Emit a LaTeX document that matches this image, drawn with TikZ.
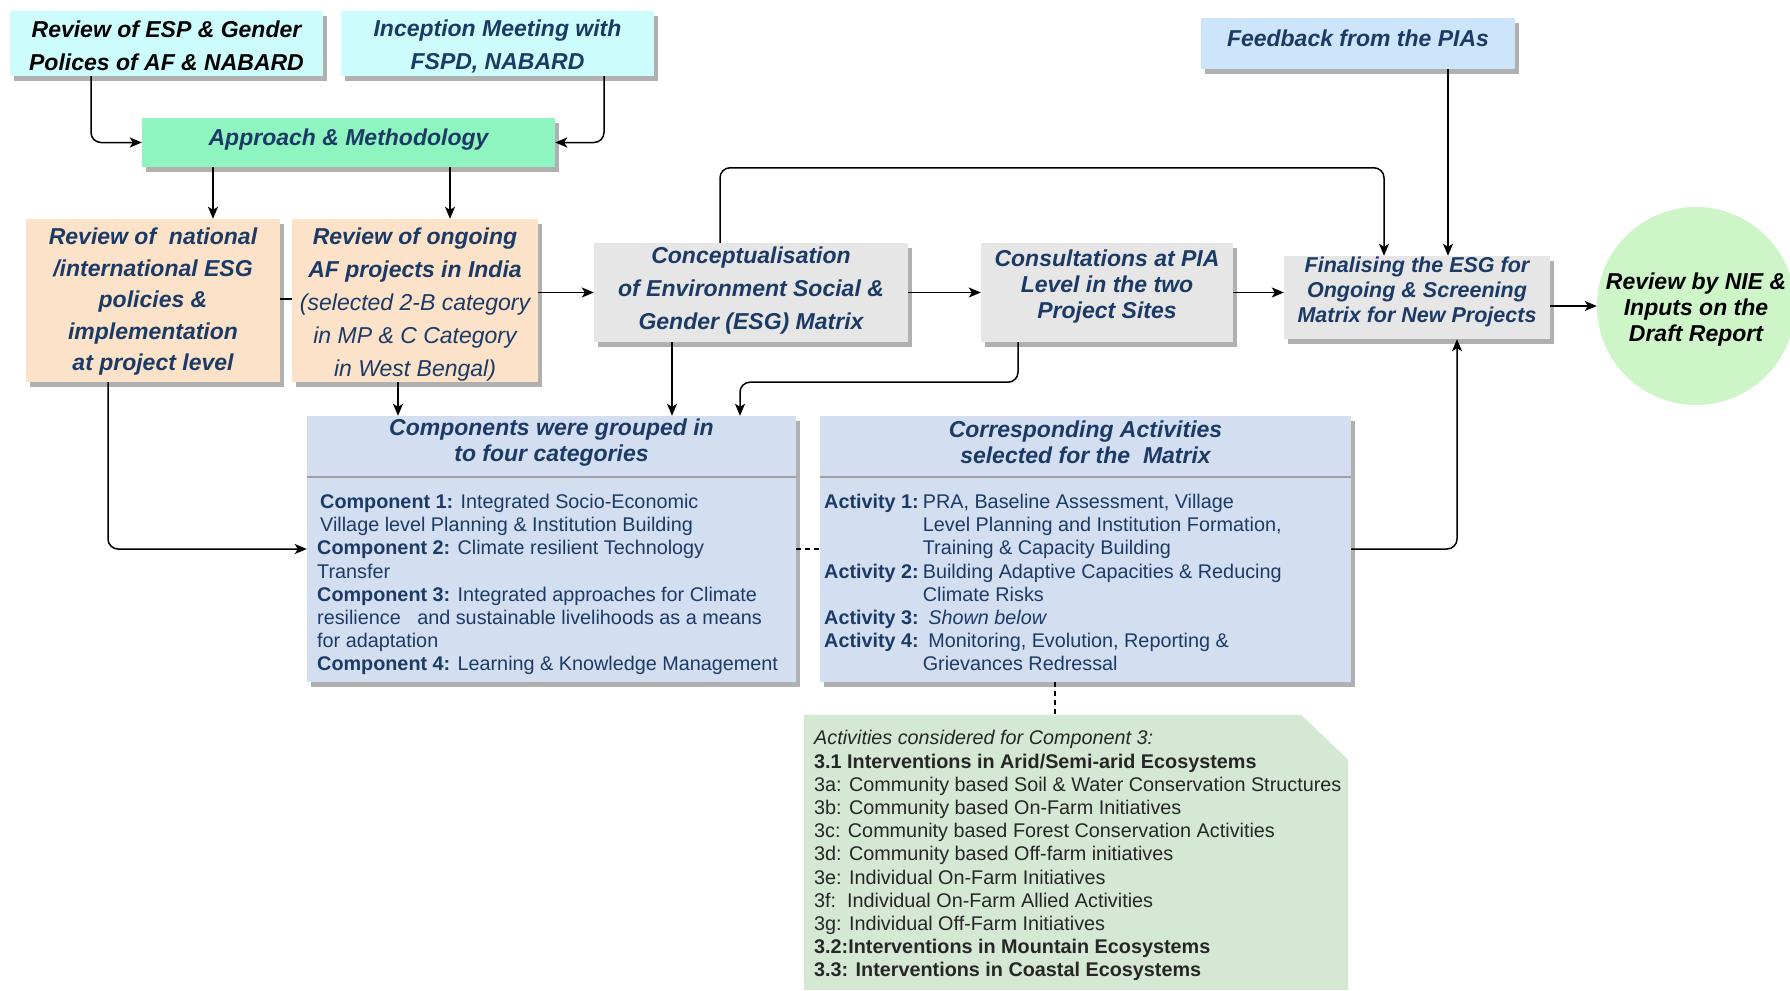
\documentclass[tikz,border=0pt]{standalone}
\usepackage{fontspec}
\setmainfont{Liberation Sans}
\usetikzlibrary{arrows.meta,shadows,calc}
\definecolor{navy}{HTML}{1B3A66}
\definecolor{cyanbox}{HTML}{CCFCFC}
\definecolor{mint}{HTML}{8FF5C0}
\definecolor{feedblue}{HTML}{CCE5FA}
\definecolor{peach}{HTML}{FBE2C9}
\definecolor{grayb}{HTML}{E6E6E6}
\definecolor{bluebox}{HTML}{D3DFF1}
\definecolor{notegreen}{HTML}{D5E8D4}
\definecolor{nieg}{HTML}{CDF5C8}
\definecolor{shadowgray}{HTML}{B0B0B0}
\definecolor{divgray}{HTML}{A0A0A0}
\definecolor{notetext}{HTML}{262626}
\tikzset{
  hd/.style={font=\bfseries\itshape\fontsize{23}{33}\selectfont, text=navy, align=center, inner sep=0pt},
  boxbase/.style={rectangle, inner sep=0pt, draw=none, drop shadow={shadow xshift=4pt, shadow yshift=-5pt, fill=shadowgray, opacity=1}},
  arr/.style={draw=black, line width=1.5pt, rounded corners=10pt, -{Stealth[length=12pt,width=10pt,inset=3pt]}},
  ln/.style={draw=black, line width=1.5pt},
  dsh/.style={draw=black, line width=1.3pt, dash pattern=on 5pt off 4pt},
  bodytxt/.style={font=\fontsize{19.8}{23.2}\selectfont, text=navy, align=left, inner sep=0pt, anchor=north west},
}
\begin{document}
\begin{tikzpicture}[x=1pt,y=-1pt]
\useasboundingbox (0,0) rectangle (1790,990);
\fill[white] (0,0) rectangle (1790,990);

% top row
\node[boxbase, fill=cyanbox, minimum width=313pt, minimum height=65pt] (esp) at (166.5,43.5) {};
\node[hd, text=black] (espt) at (166.5,46) {Review of ESP \& Gender\\Polices of AF \& NABARD};
\node[boxbase, fill=cyanbox, minimum width=313pt, minimum height=65pt] (incep) at (497.5,43.5) {};
\node[hd] (incept) at (497.5,46) {Inception Meeting with\\FSPD, NABARD};
\node[boxbase, fill=mint, minimum width=413pt, minimum height=49pt] (appr) at (348.5,142.5) {};
\node[hd] (apprt) at (348.5,139.5) {Approach \& Methodology};
\node[boxbase, fill=feedblue, minimum width=314pt, minimum height=51pt] (feed) at (1358,43.5) {};
\node[hd] (feedt) at (1358,38.5) {Feedback from the PIAs};

% second row
\node[boxbase, fill=peach, minimum width=254pt, minimum height=163pt] (natl) at (153,300.5) {};
\node[hd, font=\bfseries\itshape\fontsize{23}{31.5}\selectfont] (natlt) at (153,302) {Review of\ \ national\\/international ESG\\policies \&\\implementation\\at project level};
\node[boxbase, fill=peach, minimum width=246pt, minimum height=163pt] (ongo) at (415,300.5) {};
\node[hd] (ongot) at (415,305) {Review of ongoing\\AF projects in India\\\mdseries(selected 2-B category\\\mdseries in MP \& C Category\\\mdseries in West Bengal)};
\node[boxbase, fill=grayb, minimum width=314pt, minimum height=99pt] (conc) at (751,292.5) {};
\node[hd] (conct) at (751,290.5) {Conceptualisation\\of Environment Social \&\\Gender (ESG) Matrix};
\node[boxbase, fill=grayb, minimum width=252pt, minimum height=99pt] (cons) at (1107,292.5) {};
\node[hd, font=\bfseries\itshape\fontsize{23}{26}\selectfont] (const) at (1107,286.5) {Consultations at PIA\\Level in the two\\Project Sites};
\node[boxbase, fill=grayb, minimum width=266pt, minimum height=83pt] (fin) at (1417,297.5) {};
\node[hd, font=\bfseries\itshape\fontsize{21.5}{25}\selectfont] (fint) at (1417,291.5) {Finalising the ESG for\\Ongoing \& Screening\\Matrix for New Projects};
\node[circle, fill=nieg, minimum size=198pt, inner sep=0pt] (nie) at (1696,306) {};
\node[hd, text=black, font=\bfseries\itshape\fontsize{23}{26}\selectfont] (niet) at (1696,310) {Review by NIE \&\\Inputs on the\\Draft Report};

% components box
\node[boxbase, fill=bluebox, minimum width=489pt, minimum height=266pt] (comp) at (551.5,549) {};
\draw[divgray, line width=2pt] ($(comp.north west)+(0,61)$) -- ($(comp.north east)+(0,61)$);
\node[hd, font=\bfseries\itshape\fontsize{23}{26}\selectfont] (comph) at (551.5,442.5) {Components were grouped in\\to four categories};
\node[bodytxt] (compb) at (317,492) {\begin{tabular}{@{}l@{}}
\hspace{3pt}\textbf{Component 1:} Integrated Socio-Economic\\
\hspace{3pt}Village level Planning \& Institution Building\\
\textbf{Component 2:} Climate resilient Technology\\
Transfer\\
\textbf{Component 3:} Integrated approaches for Climate\\
resilience\ \ \ and sustainable livelihoods as a means\\
for adaptation\\
\textbf{Component 4:} Learning \& Knowledge Management
\end{tabular}};

% activities box
\node[boxbase, fill=bluebox, minimum width=531pt, minimum height=266pt] (act) at (1085.5,549) {};
\draw[divgray, line width=2pt] ($(act.north west)+(0,61)$) -- ($(act.north east)+(0,61)$);
\node[hd, font=\bfseries\itshape\fontsize{23}{26}\selectfont] (acth) at (1085.5,442) {Corresponding Activities\\selected for the\ \ Matrix};
\node[bodytxt] (actb) at (824,492) {\begin{tabular}{@{}l@{\hspace{4pt}}l@{}}
\textbf{Activity 1:} & PRA, Baseline Assessment, Village\\
 & Level Planning and Institution Formation,\\
 & Training \& Capacity Building\\
\textbf{Activity 2:} & Building Adaptive Capacities \& Reducing\\
 & Climate Risks\\
\textbf{Activity 3:} & \ \textit{Shown below}\\
\textbf{Activity 4:} & \ Monitoring, Evolution, Reporting \&\\
 & Grievances Redressal
\end{tabular}};

% note
\node[minimum width=544pt, minimum height=275pt, inner sep=0pt] (note) at (1076,852.5) {};
\fill[notegreen] (note.north west) -- ([xshift=-47pt]note.north east) -- ([yshift=-45pt]note.north east) -- (note.south east) -- (note.south west) -- cycle;
\node[bodytxt, text=notetext] (notet) at (814,728.5) {\begin{tabular}{@{}l@{}}
\textit{Activities considered for Component 3:}\\
\textbf{3.1 Interventions in Arid/Semi-arid Ecosystems}\\
3a: Community based Soil \& Water Conservation Structures\\
3b: Community based On-Farm Initiatives\\
3c: Community based Forest Conservation Activities\\
3d: Community based Off-farm initiatives\\
3e: Individual On-Farm Initiatives\\
3f:\ \ Individual On-Farm Allied Activities\\
3g: Individual Off-Farm Initiatives\\
\textbf{3.2:Interventions in Mountain Ecosystems}\\
\textbf{3.3: Interventions in Coastal Ecosystems}
\end{tabular}};

% connectors
\coordinate (e1) at ([xshift=-75.5pt]esp.south);
\draw[arr] (e1) |- (appr.west);
\coordinate (i1) at ([xshift=106.5pt]incep.south);
\draw[arr] (i1) |- (appr.east);
\coordinate (a1) at ([xshift=-135.5pt]appr.south);
\draw[arr] (a1) -- (a1 |- natl.north);
\coordinate (a2) at ([xshift=101.5pt]appr.south);
\draw[arr] (a2) -- (a2 |- ongo.north);
\draw[ln] ([yshift=1.5pt]natl.east) -- ([yshift=1.5pt]ongo.west);
\draw[arr] (ongo.east |- conc.west) -- (conc.west);
\draw[arr] (conc.east) -- (cons.west);
\draw[arr] (cons.east) -- (cons.east -| fin.west);
\draw[arr] (fin.east |- nie.west) -- (nie.west);
\coordinate (c1) at ([xshift=-31pt]conc.north);
\coordinate (c2) at ([xshift=-33pt]fin.north);
\draw[arr] (c1) -- ++(0,-75) -| (c2);
\coordinate (f1) at ([xshift=90pt]feed.south);
\draw[arr] (f1) -- (f1 |- fin.north);
\coordinate (n1) at ([xshift=-45pt]natl.south);
\draw[arr] (n1) |- (comp.west);
\coordinate (o1) at ([xshift=-17pt]ongo.south);
\draw[arr] (o1) -- (o1 |- comp.north);
\coordinate (c3) at ([xshift=-79pt]conc.south);
\draw[arr] (c3) -- (c3 |- comp.north);
\coordinate (k1) at ([xshift=-89pt]cons.south);
\coordinate (k2) at ([xshift=188.5pt]comp.north);
\draw[arr] (k1) -- ++(0,40) -| (k2);
\draw[dsh] (comp.east) -- (act.west);
\coordinate (fs) at ([xshift=40pt]fin.south);
\draw[arr] (act.east) -| (fs);
\coordinate (a3) at ([xshift=-30.5pt]act.south);
\draw[dsh] (a3) -- (a3 |- note.north);
\end{tikzpicture}
\end{document}
